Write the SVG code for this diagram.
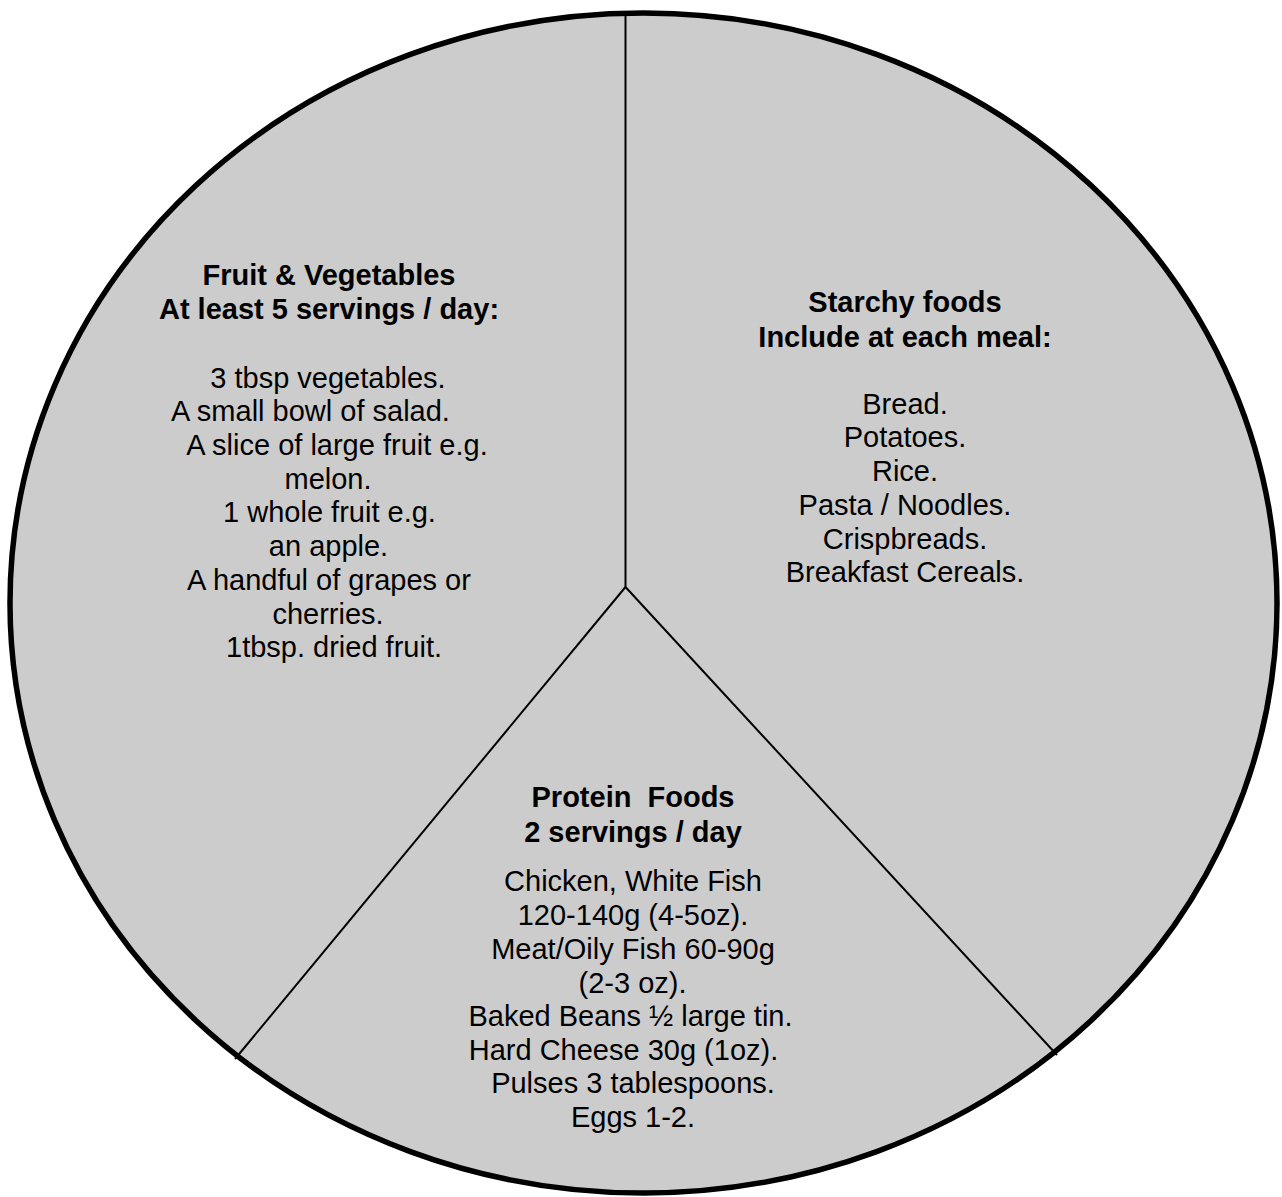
<svg xmlns="http://www.w3.org/2000/svg" width="1282" height="1197" viewBox="0 0 1282 1197">
<style>
.t{font-family:"Liberation Sans",Arial,sans-serif;font-size:29px;fill:#000;text-anchor:middle}
.b{font-weight:bold}
.div{stroke:#000;stroke-width:2;fill:none}
</style>
<rect width="1282" height="1197" fill="#fff"/>
<g id="plate">
<ellipse cx="643.5" cy="603" rx="633.5" ry="590" fill="#cccccc" stroke="#000" stroke-width="5.5"/>
</g>
<g id="connectors">
<line class="div" x1="625.5" y1="16" x2="625.5" y2="587"/>
<line class="div" x1="625.5" y1="587" x2="235" y2="1059"/>
<line class="div" x1="625.5" y1="587" x2="1057" y2="1055"/>
</g>
<g id="fruit-vegetables">
<text class="t b" x="329" y="285">Fruit &amp; Vegetables</text>
<text class="t b" x="329" y="319">At least 5 servings / day:</text>
<text class="t" x="328" y="387.5">3 tbsp vegetables.</text>
<text class="t" x="310.5" y="421">A small bowl of salad.</text>
<text class="t" x="337" y="455">A slice of large fruit e.g.</text>
<text class="t" x="328" y="488.5">melon.</text>
<text class="t" x="329.5" y="522">1 whole fruit e.g.</text>
<text class="t" x="328.5" y="556">an apple.</text>
<text class="t" x="329" y="590">A handful of grapes or</text>
<text class="t" x="328" y="623.5">cherries.</text>
<text class="t" x="334" y="657">1tbsp. dried fruit.</text>
</g>
<g id="starchy-foods">
<text class="t b" x="905" y="312">Starchy foods</text>
<text class="t b" x="905" y="346.5">Include at each meal:</text>
<text class="t" x="905" y="413.5">Bread.</text>
<text class="t" x="905" y="447">Potatoes.</text>
<text class="t" x="905" y="481">Rice.</text>
<text class="t" x="905" y="515">Pasta / Noodles.</text>
<text class="t" x="905" y="548.5">Crispbreads.</text>
<text class="t" x="905" y="582">Breakfast Cereals.</text>
</g>
<g id="protein-foods">
<text class="t b" x="633" y="807" xml:space="preserve">Protein  Foods</text>
<text class="t b" x="633" y="841.5">2 servings / day</text>
<text class="t" x="633" y="891">Chicken, White Fish</text>
<text class="t" x="633" y="925">120-140g (4-5oz).</text>
<text class="t" x="633" y="958.5">Meat/Oily Fish 60-90g</text>
<text class="t" x="632.5" y="992.5">(2-3 oz).</text>
<text class="t" x="630.5" y="1026">Baked Beans ½ large tin.</text>
<text class="t" x="623.5" y="1060">Hard Cheese 30g (1oz).</text>
<text class="t" x="633" y="1093">Pulses 3 tablespoons.</text>
<text class="t" x="633" y="1127">Eggs 1-2.</text>
</g>
</svg>
